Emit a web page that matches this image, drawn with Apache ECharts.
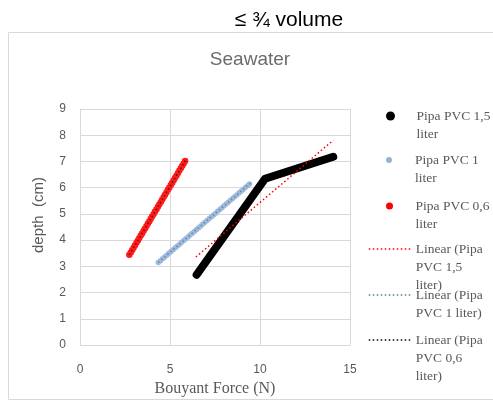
<!DOCTYPE html>
<html>
<head>
<meta charset="utf-8">
<script src="https://cdn.jsdelivr.net/npm/echarts@6/dist/echarts.min.js"></script>
<style>html,body{margin:0;padding:0;background:#fff}#c{width:493px;height:402px}</style>
</head>
<body>
<div id="c"></div>
<script>
// Data
const seriesNames = ['Pipa PVC 1,5 liter', 'Pipa PVC 1 liter', 'Pipa PVC 0,6 liter'];
const trendNames = ['Linear (Pipa PVC 1,5 liter)', 'Linear (Pipa PVC 1 liter)', 'Linear (Pipa PVC 0,6 liter)'];
const force15 = [6.48, 10.28, 14.07];
const depth15 = [2.68, 6.34, 7.18];
const force1 = [4.35, 9.48];
const depth1 = [3.15, 6.18];
const force06 = [2.74, 5.85];
const depth06 = [3.44, 7.03];
const trend15X = [6.44, 14.07];
const trend15Y = [3.36, 7.81];
const trend1X = [4.35, 9.48];
const trend1Y = [3.15, 6.18];
const trend06X = [2.74, 5.85];
const trend06Y = [3.44, 7.03];
const xTicks = [0, 5, 10, 15];
const yTicks = [0, 1, 2, 3, 4, 5, 6, 7, 8, 9];
const legendLabels = ['Pipa PVC 1,5\nliter', 'Pipa PVC 1\nliter', 'Pipa PVC 0,6\nliter',
  'Linear (Pipa\nPVC 1,5\nliter)', 'Linear (Pipa\nPVC 1 liter)', 'Linear (Pipa\nPVC 0,6\nliter)'];

const zip = (xs, ys) => xs.map((x, i) => [x, ys[i]]);
const gray = '#595959';
const serif = 'Liberation Serif';

const chart = echarts.init(document.getElementById('c'), null, {renderer: 'canvas'});

// one legend block per entry; blank lines on top keep the first text line level with the icon
function legendFor(idx, iconY, opts) {
  const name = idx < 3 ? seriesNames[idx] : trendNames[idx - 3];
  const label = legendLabels[idx];
  const lines = label.split('\n').length;
  const shown = '\n'.repeat(lines - 1) + label;
  const half = (18 * (2 * lines - 1)) / 2;
  return Object.assign({
    data: [name],
    orient: 'vertical',
    padding: 0,
    left: 368,
    itemWidth: 42,
    top: iconY - half,
    selectedMode: false,
    itemGap: 0,
    formatter: () => shown,
    textStyle: {fontFamily: serif, fontSize: 13.5, color: gray, lineHeight: 18, width: 60, overflow: 'none'}
  }, opts);
}

const option = {
  animation: false,
  backgroundColor: '#fff',
  title: [
    {text: '≤ ¾ volume', left: 289, top: 10, padding: 0, textAlign: 'center',
      textStyle: {fontFamily: 'Liberation Sans', fontSize: 21, fontWeight: 'normal', color: '#000'}},
    {text: 'Seawater', left: 250, top: 50, padding: 0, textAlign: 'center',
      textStyle: {fontFamily: 'Liberation Sans', fontSize: 19, fontWeight: 'normal', color: '#6b6b6b'}}
  ],
  graphic: [
    {type: 'rect', shape: {x: 8.5, y: 32.5, width: 500, height: 367}, style: {fill: 'none', stroke: '#d9d9d9', lineWidth: 1}, z: -10}
  ],
  legend: [
    legendFor(0, 116, {left: 386, itemHeight: 9, icon: 'circle', itemStyle: {color: '#000'}}),
    legendFor(1, 160, {left: 386, itemHeight: 6, icon: 'circle', itemStyle: {color: '#95b3d7'}}),
    legendFor(2, 206, {left: 386, itemHeight: 7, icon: 'circle', itemStyle: {color: '#ff0000'}}),
    legendFor(3, 249, {itemHeight: 1, lineStyle: {width: 1.5, type: [1.5, 2.5], color: '#ff0000', opacity: 1}}),
    legendFor(4, 295, {itemHeight: 1, lineStyle: {width: 1.5, type: [1.5, 2.5], color: '#4f7f91', opacity: 1}}),
    legendFor(5, 340, {itemHeight: 1, lineStyle: {width: 1.5, type: [1.5, 2.5], color: '#000', opacity: 1}})
  ],
  grid: {left: 80, right: 143, top: 109, bottom: 52, containLabel: false},
  xAxis: {
    type: 'value', min: xTicks[0], max: xTicks[xTicks.length - 1], interval: xTicks[1] - xTicks[0],
    name: 'Bouyant Force (N)', nameLocation: 'middle', nameGap: 31,
    nameTextStyle: {fontFamily: serif, fontSize: 16, color: gray},
    axisLine: {show: true, lineStyle: {color: '#d9d9d9'}},
    axisTick: {show: false},
    axisLabel: {margin: 19, fontFamily: 'Liberation Sans', fontSize: 12, color: gray},
    splitLine: {show: true, lineStyle: {color: '#d9d9d9'}}
  },
  yAxis: {
    type: 'value', min: yTicks[0], max: yTicks[yTicks.length - 1], interval: yTicks[1] - yTicks[0],
    name: 'depth  (cm)', nameLocation: 'middle', nameGap: 34, nameRotate: 90,
    nameTextStyle: {fontFamily: 'Liberation Sans', fontSize: 15, color: gray, padding: [0, 0, 0, 24]},
    axisLine: {show: true, lineStyle: {color: '#d9d9d9'}},
    axisTick: {show: false},
    axisLabel: {margin: 14, fontFamily: 'Liberation Sans', fontSize: 12, color: gray},
    splitLine: {show: true, lineStyle: {color: '#d9d9d9'}}
  },
  series: [
    {name: seriesNames[0], type: 'line', data: zip(force15, depth15), symbol: 'none', z: 3,
      itemStyle: {color: '#000'},
      lineStyle: {color: '#000', width: 8, cap: 'round', join: 'round'}},
    {name: seriesNames[1], type: 'line', data: zip(force1, depth1), symbol: 'none', z: 3,
      itemStyle: {color: '#95b3d7'},
      lineStyle: {color: '#9fb9dc', width: 5.5, type: [0, 2.8], cap: 'round'}},
    {name: seriesNames[2], type: 'line', data: zip(force06, depth06), symbol: 'none', z: 3,
      itemStyle: {color: '#ff0000'},
      lineStyle: {color: '#ff1a1a', width: 6.5, type: [0, 2.8], cap: 'round'}},
    {name: trendNames[0], type: 'line', data: zip(trend15X, trend15Y), symbol: 'none', z: 5,
      itemStyle: {color: '#ff0000'},
      lineStyle: {color: '#ff0000', width: 1.5, type: [1.5, 2.5]}},
    {name: trendNames[1], type: 'line', data: zip(trend1X, trend1Y), symbol: 'none', z: 5,
      itemStyle: {color: '#4f7f91'},
      lineStyle: {color: '#4f7f91', width: 1.5, type: [1.5, 2.5], opacity: 0.8}},
    {name: trendNames[2], type: 'line', data: zip(trend06X, trend06Y), symbol: 'none', z: 5,
      itemStyle: {color: '#000'},
      lineStyle: {color: '#000', width: 1.5, type: [1.5, 2.5], opacity: 0.6}}
  ]
};
chart.setOption(option);
</script>
</body>
</html>
